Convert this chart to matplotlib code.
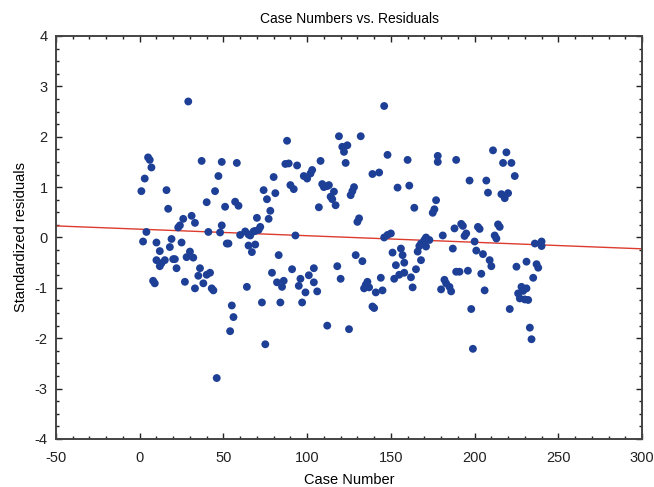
import matplotlib
matplotlib.use("Agg")
import matplotlib.pyplot as plt
from matplotlib.ticker import MultipleLocator
import numpy as np

plt.rcParams['font.family'] = ['Liberation Sans', 'DejaVu Sans']
plt.rcParams['axes.unicode_minus'] = False

# case number / standardized residual
case_x = [
    29, 5, 6, 7, 3, 1, 16, 17, 37, 49, 47, 45, 40, 51, 31, 26, 33, 24, 23, 49,
    4, 41, 48, 2, 10, 19, 25, 12, 18, 30, 10, 15, 13, 12, 20, 21, 28, 32, 22, 36,
    35, 40, 42, 8, 9, 27, 38, 33, 43, 44, 46,
    88, 58, 87, 89, 94, 80, 98, 100, 102, 103, 74, 90, 92, 81, 76, 57, 59, 78, 70, 77,
    72, 71, 63, 68, 69, 60, 65, 66, 93, 52, 53, 65, 69, 67, 83, 79, 91, 82, 86, 85,
    96, 95, 101, 104, 104, 64, 73, 84, 99, 97, 55, 56, 54, 75,
    146, 119, 132, 121, 124, 122, 123, 148, 108, 139, 143, 154, 109, 110, 112, 113, 116, 114, 115, 117,
    128, 127, 126, 107, 131, 130, 150, 148, 146, 156, 151, 157, 153, 158, 155, 152, 158, 129, 133, 118,
    106, 120, 136, 135, 137, 134, 144, 141, 145, 139, 140, 112, 125,
    160, 178, 178, 189, 211, 161, 197, 207, 208, 177, 164, 176, 175, 192, 193, 188, 195, 194, 202, 203,
    181, 212, 171, 173, 170, 168, 167, 171, 166, 200, 187, 201, 205, 168, 165, 162, 163, 209, 210, 189,
    191, 196, 204, 182, 183, 185, 186, 180, 206, 198, 199,
    219, 217, 222, 224, 216, 218, 220, 214, 215, 213, 236, 240, 240, 225, 231, 237, 238, 235, 228, 231,
    226, 227, 230, 232, 229, 221, 233, 234,
]
residual_y = [
    2.70, 1.59, 1.54, 1.39, 1.17, 0.92, 0.94, 0.57, 1.52, 1.50, 1.22, 0.92, 0.70, 0.61, 0.43, 0.37, 0.29, 0.24, 0.20, 0.24,
    0.11, 0.11, 0.10, -0.08, -0.10, -0.03, -0.10, -0.27, -0.19, -0.28, -0.45, -0.45, -0.51, -0.57, -0.43, -0.43, -0.39, -0.40, -0.61, -0.61,
    -0.76, -0.74, -0.70, -0.86, -0.91, -0.88, -0.91, -1.01, -1.01, -1.05, -2.79,
    1.92, 1.48, 1.46, 1.47, 1.43, 1.20, 1.22, 1.17, 1.27, 1.34, 0.94, 1.04, 0.96, 0.88, 0.76, 0.71, 0.63, 0.53, 0.39, 0.37,
    0.21, 0.15, 0.12, 0.12, 0.13, 0.05, 0.06, 0.04, 0.04, -0.12, -0.12, -0.16, -0.14, -0.29, -0.35, -0.70, -0.63, -0.89, -0.86, -0.98,
    -0.82, -0.96, -0.75, -0.61, -0.89, -0.98, -1.29, -1.29, -1.09, -1.29, -1.35, -1.58, -1.86, -2.12,
    2.61, 2.01, 2.01, 1.80, 1.83, 1.70, 1.48, 1.64, 1.52, 1.26, 1.29, 0.99, 1.06, 1.00, 1.02, 1.04, 0.91, 0.81, 0.76, 0.64,
    1.00, 0.92, 0.84, 0.60, 0.38, 0.31, 0.08, 0.05, 0.00, -0.22, -0.30, -0.35, -0.55, -0.50, -0.74, -0.82, -0.70, -0.35, -0.47, -0.57,
    -1.07, -0.82, -0.88, -0.94, -0.99, -1.01, -0.80, -1.09, -1.05, -1.37, -1.40, -1.75, -1.82,
    1.54, 1.62, 1.50, 1.54, 1.73, 1.03, 1.13, 1.13, 0.89, 0.74, 0.59, 0.56, 0.49, 0.27, 0.23, 0.18, 0.08, 0.03, 0.21, 0.17,
    0.04, 0.04, 0.00, -0.05, -0.05, -0.12, -0.17, -0.18, -0.28, -0.08, -0.22, -0.26, -0.33, -0.45, -0.63, -0.79, -0.99, -0.45, -0.57, -0.68,
    -0.68, -0.66, -0.72, -0.84, -0.91, -0.98, -1.07, -1.03, -1.05, -1.42, -2.21,
    1.69, 1.48, 1.48, 1.22, 0.86, 0.78, 0.88, 0.26, 0.21, -0.02, -0.12, -0.08, -0.17, -0.58, -0.48, -0.53, -0.60, -0.80, -0.98, -1.01,
    -1.11, -1.21, -1.23, -1.24, -1.06, -1.42, -1.79, -2.02,
]

# trend line of residuals against case number
fit_intercept = 0.165
fit_slope = -0.0013

x_range = [-50, 300]
y_range = [-4, 4]

fig = plt.figure(figsize=(6.54, 4.87), dpi=100)
ax = fig.add_axes([0.0856, 0.0986, 0.8961, 0.8275])

ax.scatter(case_x, residual_y, s=32, color="#1d3f96", edgecolors="none", zorder=3)

line_x = np.array(x_range)
ax.plot(line_x, fit_intercept + fit_slope * line_x, color="#dc3b2e", lw=1.0, zorder=2)

ax.set_xlim(x_range)
ax.set_ylim(y_range)
ax.xaxis.set_major_locator(MultipleLocator(50))
ax.xaxis.set_minor_locator(MultipleLocator(10))
ax.yaxis.set_major_locator(MultipleLocator(1))
ax.yaxis.set_minor_locator(MultipleLocator(0.25))

ax.tick_params(which="both", direction="in", top=True, right=True, colors="#222222",
               labelsize=10.5, width=1.0)
ax.tick_params(which="major", length=4)
ax.tick_params(axis="x", which="major", pad=8.5)
ax.tick_params(axis="y", which="major", pad=6)
ax.tick_params(which="minor", length=2)

for sp in ax.spines.values():
    sp.set_linewidth(1.4)
    sp.set_color("#444444")

ax.set_title("Case Numbers vs. Residuals", fontsize=10, pad=9)
ax.set_xlabel("Case Number", fontsize=10.5, labelpad=6)
ax.set_ylabel("Standardized residuals", fontsize=10.5, labelpad=5)

fig.savefig("out.png", dpi=100)
